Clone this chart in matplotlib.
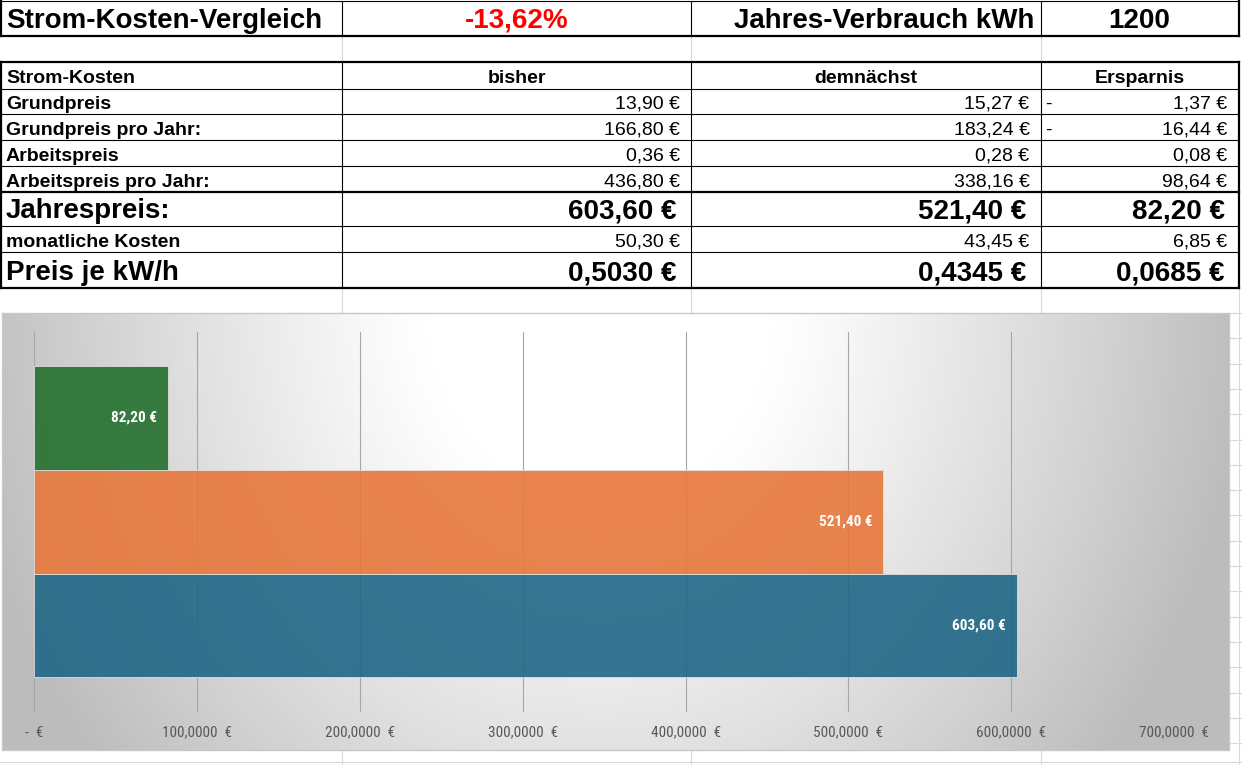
import numpy as np
import matplotlib
matplotlib.use("Agg")
import matplotlib.pyplot as plt
from matplotlib import font_manager as fm

# ---------------- data ----------------
title_text = "Strom-Kosten-Vergleich"
change_pct = -13.62
consumption_label = "Jahres-Verbrauch kWh"
consumption_kwh = 1200

col_headers = ["Strom-Kosten", "bisher", "demnächst", "Ersparnis"]
row_labels = ["Grundpreis", "Grundpreis pro Jahr:", "Arbeitspreis",
              "Arbeitspreis pro Jahr:", "Jahrespreis:", "monatliche Kosten",
              "Preis je kW/h"]
bisher = [13.90, 166.80, 0.36, 436.80, 603.60, 50.30, 0.5030]
demnaechst = [15.27, 183.24, 0.28, 338.16, 521.40, 43.45, 0.4345]
ersparnis = [-1.37, -16.44, 0.08, 98.64, 82.20, 6.85, 0.0685]
decimals = [2, 2, 2, 2, 2, 2, 4]
big_rows = [False, False, False, False, True, False, True]

chart_categories = ["bisher", "demnächst", "Ersparnis"]
chart_values = [603.60, 521.40, 82.20]
chart_colors = ["#206786", "#e7773c", "#24702e"]
x_ticks = [0, 100, 200, 300, 400, 500, 600, 700]
x_tick_labels = ["-  €", "100,0000  €", "200,0000  €", "300,0000  €",
                 "400,0000  €", "500,0000  €", "600,0000  €", "700,0000  €"]


def de_fmt(v, d):
    s = f"{abs(v):,.{d}f}"
    s = s.replace(",", "X").replace(".", ",").replace("X", ".")
    return s + " €"


W, H = 1242, 765
fig = plt.figure(figsize=(W / 100, H / 100), dpi=100)
fig.patch.set_facecolor("white")

SANS = ["Liberation Sans", "DejaVu Sans"]

# pick a condensed face if one is installed
names = {f.name for f in fm.fontManager.ttflist}
narrow_choice = None
for cand in ["Liberation Sans Narrow", "Arial Narrow", "Roboto Condensed",
             "Open Sans Condensed", "DejaVu Sans Condensed"]:
    if cand in names:
        narrow_choice = cand
        break
cond_dejavu = any(f.name == "DejaVu Sans" and str(f.stretch) in ("condensed", "semi-condensed", "500", "300")
                  for f in fm.fontManager.ttflist)
if narrow_choice is not None:
    NARROW = dict(family=[narrow_choice, "DejaVu Sans"])
    lab_fs = 11
elif cond_dejavu:
    NARROW = dict(family=["DejaVu Sans"], stretch="condensed")
    lab_fs = 10
else:
    NARROW = dict(family=["Liberation Sans", "DejaVu Sans"])
    lab_fs = 9.5

# full-figure axes in pixel coordinates for the spreadsheet part
tab = fig.add_axes([0, 0, 1, 1])
tab.set_xlim(0, W)
tab.set_ylim(H, 0)
tab.axis("off")

col_x = [1, 342, 691, 1040.5, 1238.5]
faint = "#d9d9d9"

# faint sheet grid lines
for cx in col_x[1:4]:
    tab.plot([cx, cx], [36, 62], color=faint, lw=0.8, zorder=0)
    tab.plot([cx, cx], [288, 313], color=faint, lw=0.8, zorder=0)
    tab.plot([cx, cx], [750, H], color=faint, lw=0.8, zorder=0)
tab.plot([0, W], [762, 762], color=faint, lw=0.8, zorder=0)
for yy in np.arange(313, 765, 25.3):
    tab.plot([1229, W], [yy, yy], color=faint, lw=0.8, zorder=0)
tab.plot([1238.5, 1238.5], [288, H], color=faint, lw=0.8, zorder=0)

thin = 0.8
thick = 1.6

# title row
tab.plot([col_x[0], col_x[-1]], [1, 1], color="black", lw=thin)
tab.plot([col_x[0], col_x[-1]], [35.5, 35.5], color="black", lw=thick)
for cx in col_x:
    lw = thick if cx in (col_x[0], col_x[-1]) else thin
    tab.plot([cx, cx], [1, 35.5], color="black", lw=lw)

tab.text(6, 27.5, title_text, fontsize=20, fontweight="bold", family=SANS,
         va="baseline", ha="left")
pct = f"{change_pct:.2f}".replace(".", ",") + "%"
tab.text((col_x[1] + col_x[2]) / 2, 27.5, pct, fontsize=20, fontweight="bold",
         family=SANS, color="#ff0000", va="baseline", ha="center")
tab.text(col_x[3] - 6, 27.5, consumption_label, fontsize=20, fontweight="bold",
         family=SANS, va="baseline", ha="right")
tab.text((col_x[3] + col_x[4]) / 2, 27.5, str(consumption_kwh), fontsize=20,
         fontweight="bold", family=SANS, va="baseline", ha="center")

# main table
row_y = [62, 88.5, 114, 140, 166, 192, 226, 252, 288]
for i, yy in enumerate(row_y):
    lw = thick if i in (0, 5, len(row_y) - 1) else thin
    tab.plot([col_x[0], col_x[-1]], [yy, yy], color="black", lw=lw)
for cx in col_x:
    lw = thick if cx in (col_x[0], col_x[-1]) else thin
    tab.plot([cx, cx], [row_y[0], row_y[-1]], color="black", lw=lw)

# header
hb = row_y[1] - 5.5
tab.text(6, hb, col_headers[0], fontsize=14, fontweight="bold", family=SANS,
         va="baseline", ha="left")
for j in range(1, 4):
    tab.text((col_x[j] + col_x[j + 1]) / 2, hb, col_headers[j], fontsize=14,
             fontweight="bold", family=SANS, va="baseline", ha="center")

for i, lab in enumerate(row_labels):
    bottom = row_y[i + 2]
    big = big_rows[i]
    fs = 20 if big else 14
    fw = "bold" if big else "normal"
    base = bottom - (8 if big else 5.5)
    pad = 14 if big else 11
    tab.text(6, base, lab, fontsize=fs, fontweight="bold", family=SANS,
             va="baseline", ha="left")
    for j, series in enumerate([bisher, demnaechst, ersparnis]):
        v = series[i]
        tab.text(col_x[j + 2] - pad, base, de_fmt(v, decimals[i]), fontsize=fs,
                 fontweight=fw, family=SANS, va="baseline", ha="right")
        if v < 0:
            tab.text(col_x[j + 1] + 5, base, "-", fontsize=fs, fontweight=fw,
                     family=SANS, va="baseline", ha="left")

# ---------------- chart background (radial gradient) ----------------
cx0, cx1, cy0, cy1 = 2, 1229, 313, 750
gx = np.linspace(cx0, cx1, 400)
gy = np.linspace(cy0, cy1, 200)
GX, GY = np.meshgrid(gx, gy)
d = np.sqrt(((GX - 600) / 630.0) ** 2 + ((GY - 300) / 720.0) ** 2)
t = np.clip((d - 0.28) / (1 - 0.28), 0, 1.2)
val = np.clip(1 - 0.25 * t ** 1.1, 0.74, 1.0)
img = np.dstack([val, val, val])
tab.imshow(img, extent=[cx0, cx1, cy1, cy0], aspect="auto", zorder=1,
           interpolation="bilinear")
tab.plot([cx0, cx1, cx1, cx0, cx0], [cy0, cy0, cy1, cy1, cy0],
         color="#c8c8c8", lw=1.0, zorder=2)
tab.set_xlim(0, W)
tab.set_ylim(H, 0)

# ---------------- bar chart ----------------
left_px, right_px = 34.4, 1174
top_px, bot_px = 331.7, 711.7
ax = fig.add_axes([left_px / W, (H - bot_px) / H, (right_px - left_px) / W,
                   (bot_px - top_px) / H])
ax.patch.set_alpha(0)
ypos = np.arange(len(chart_categories))
bars = ax.barh(ypos, chart_values, height=1.0, color=chart_colors, alpha=0.9,
               edgecolor="#e4e4e4", linewidth=0.6, zorder=3)
ax.set_xlim(0, 700)
ax.set_ylim(-0.832, 2.832)
for xv in x_ticks:
    ax.axvline(xv, color="#a6a6a6", lw=0.8, zorder=1)
for s in ax.spines.values():
    s.set_visible(False)
ax.set_yticks([])
ax.set_xticks(x_ticks)
ax.set_xticklabels(x_tick_labels, fontsize=lab_fs, color="#595959", **NARROW)
ax.tick_params(axis="x", length=0, pad=10)

for b, v in zip(bars, chart_values):
    lbl = de_fmt(v, 2)
    ax.annotate(lbl, xy=(b.get_width(), b.get_y() + b.get_height() / 2),
                xytext=(-11, 0), textcoords="offset pixels", ha="right",
                va="center", color="white", fontweight="bold", fontsize=lab_fs,
                zorder=5, **NARROW)

fig.savefig("out.png", dpi=100)
